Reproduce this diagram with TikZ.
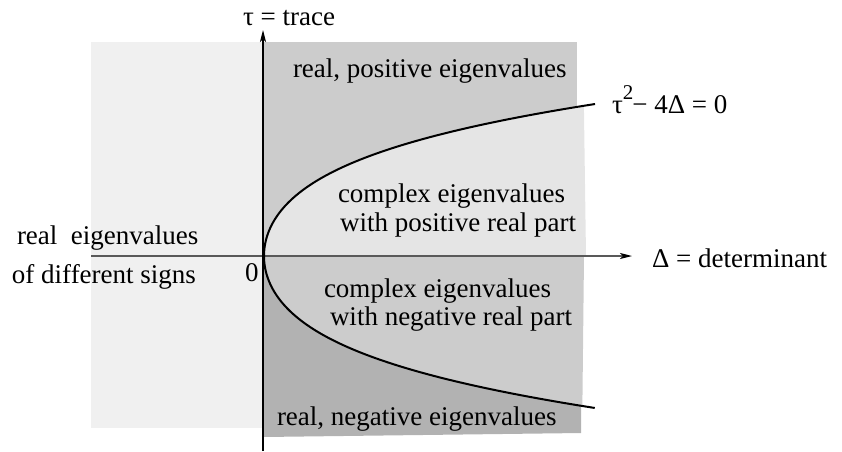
\documentclass[tikz,border=0pt]{standalone}
\usepackage{fontspec}
\setmainfont{Liberation Serif}
\usetikzlibrary{arrows.meta}
\newcommand{\parabcurve}{plot[domain=1.52:-1.52, samples=121, smooth] ({264+76.9*\x*\x+28.73*\x*\x*\x*\x},{256-100*\x})}
\begin{document}
\begin{tikzpicture}[x=1pt,y=-1pt,
  lbl/.style={font=\fontsize{27}{32}\selectfont, inner sep=0pt, outer sep=0pt, anchor=base west},
  leftrg/.style={fill=black!6},
  toprg/.style={fill=black!20},
  cplxup/.style={fill=black!10},
  cplxdn/.style={fill=black!20},
  botrg/.style={fill=black!30},
  vaxis/.style={line width=1.2pt, draw=black, -{Stealth[length=12pt,width=6pt,inset=3pt]}},
  haxis/.style={line width=1.2pt, draw=black!65, -{Stealth[length=12pt,width=6pt,inset=3pt,color=black]}},
  parab/.style={line width=2pt, draw=black}]
\useasboundingbox (0,0) rectangle (842,451);
% regions
\fill[leftrg] (91,42) rectangle (263,428);
\fill[toprg] (263,42) rectangle (577,256);
\begin{scope}
  \clip (263,42) -- (583,42) -- (586,256) -- (263,256) -- cycle;
  \fill[cplxup] \parabcurve -- cycle;
\end{scope}
\fill[botrg] (263,256) -- (581,256) -- (581,433) -- (263,437) -- cycle;
\begin{scope}
  \clip (263,256) -- (584,256) -- (582,440) -- (263,440) -- cycle;
  \fill[cplxdn] \parabcurve -- cycle;
\end{scope}
% axes
\coordinate (ybot) at (263,451);
\coordinate (ytip) at (263,30);
\coordinate (xleft) at (91,256);
\coordinate (xtip) at (632,256);
\draw[haxis] (xleft) -- (xtip);
\draw[vaxis] (ybot) -- (ytip);
% parabola
\draw[parab] \parabcurve;
% labels
\node[lbl] (trace) at (243,25) {τ = trace};
\node[lbl] (det) at (652,267) {Δ = determinant};
\node[lbl] (eq) at (612,113) {τ\raisebox{14pt}{\fontsize{21}{21}\selectfont 2}\kern-1pt− 4Δ = 0};
\node[lbl] (zero) at (245,281) {0};
\node[lbl] (rpos) at (293,77) {real, positive eigenvalues};
\node[lbl] (cu1) at (338,202) {complex eigenvalues};
\node[lbl] (cu2) at (340,231) {with positive real part};
\node[lbl] (cd1) at (324,297) {complex eigenvalues};
\node[lbl] (cd2) at (330,325) {with negative real part};
\node[lbl] (rneg) at (277,425) {real, negative eigenvalues};
\node[lbl] (rdiff1) at (17,244) {real\ \ eigenvalues};
\node[lbl] (rdiff2) at (12,283) {of different signs};
\end{tikzpicture}
\end{document}
